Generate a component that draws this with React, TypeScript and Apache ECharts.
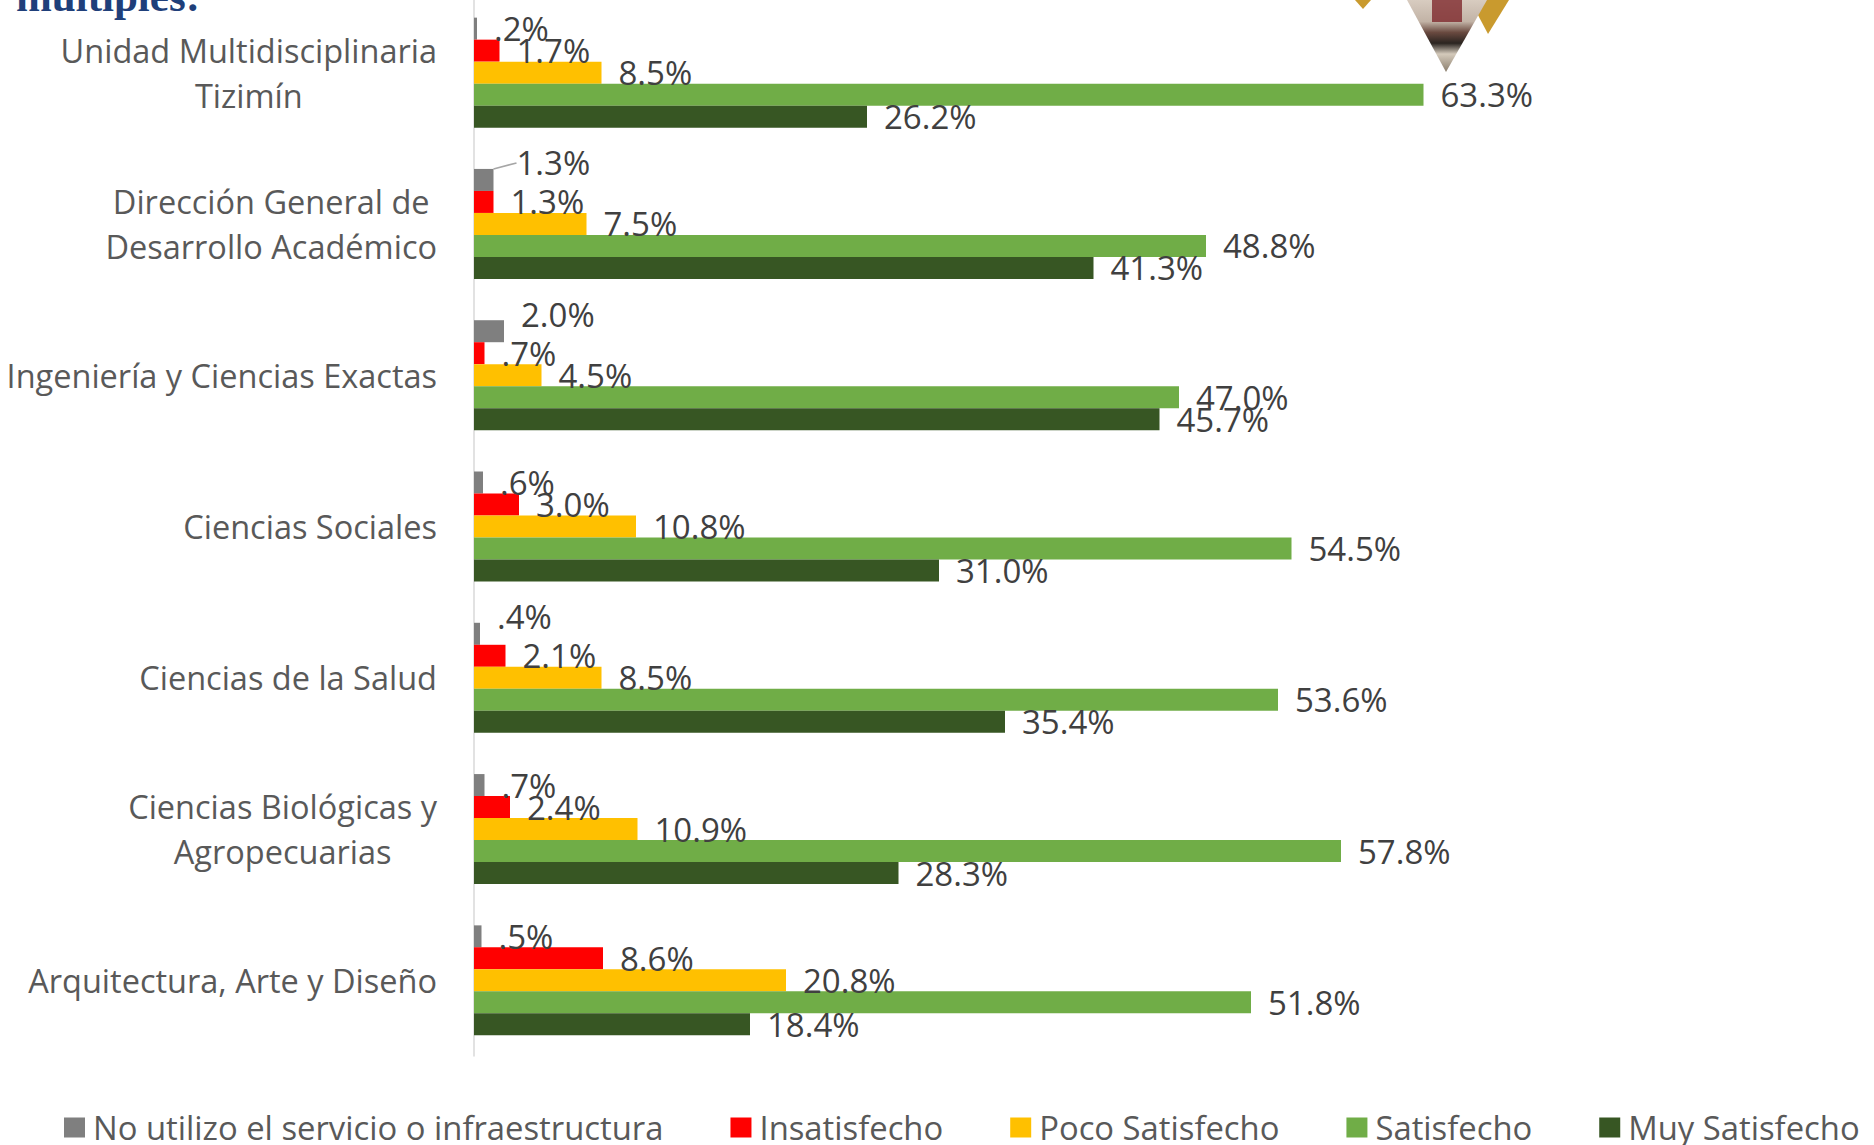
import React, { useEffect, useRef } from "react";
import * as echarts from "echarts";

const categories = [
  "Unidad Multidisciplinaria\nTizimín",
  "Dirección General de\nDesarrollo Académico",
  "Ingeniería y Ciencias Exactas",
  "Ciencias Sociales",
  "Ciencias de la Salud",
  "Ciencias Biológicas y\nAgropecuarias",
  "Arquitectura, Arte y Diseño",
];

const seriesNames = [
  "No utilizo el servicio o infraestructura",
  "Insatisfecho",
  "Poco Satisfecho",
  "Satisfecho",
  "Muy Satisfecho",
];

const noUtilizo = [0.2, 1.3, 2.0, 0.6, 0.4, 0.7, 0.5];
const insatisfecho = [1.7, 1.3, 0.7, 3.0, 2.1, 2.4, 8.6];
const pocoSatisfecho = [8.5, 7.5, 4.5, 10.8, 8.5, 10.9, 20.8];
const satisfecho = [63.3, 48.8, 47.0, 54.5, 53.6, 57.8, 51.8];
const muySatisfecho = [26.2, 41.3, 45.7, 31.0, 35.4, 28.3, 18.4];

const colors = ["#7F7F7F", "#FF0000", "#FFC000", "#70AD47", "#375623"];

const FONT = "'Open Sans', sans-serif";
const FS_LABEL = 33;
const FS_CAT = 32.5;
const FS_LEG = 32.8;

function fmt(v: number): string {
  const s = v.toFixed(1);
  return (v < 1 ? s.replace(/^0/, "") : s) + "%";
}

export default function App() {
  const ref = useRef<HTMLDivElement>(null);

  useEffect(() => {
    if (!ref.current) return;
    const chart = echarts.init(ref.current, undefined, { renderer: "svg" });

    const allData = [noUtilizo, insatisfecho, pocoSatisfecho, satisfecho, muySatisfecho];

    const series = allData.map((arr, si) => ({
      name: seriesNames[si],
      type: "bar",
      barWidth: 22,
      barGap: "0%",
      itemStyle: { color: colors[si] },
      data: arr.map((v, di) => {
        if (si === 0 && di === 1) {
          return {
            value: v,
            labelLine: { show: true, lineStyle: { color: "#A6A6A6", width: 1.5 } },
          };
        }
        return v;
      }),
      label: {
        show: true,
        position: "right",
        distance: 17,
        formatter: (p: any) => fmt(p.value),
        fontSize: FS_LABEL,
        fontFamily: FONT,
        color: "#404040",
      },
      labelLayout:
        si === 0
          ? (p: any) =>
              p.dataIndex === 1
                ? { dx: 6, dy: -17 }
                : p.dataIndex === 2 || p.dataIndex === 4
                ? { dx: 0, dy: -17 }
                : {}
          : undefined,
    }));

    const option: any = {
      animation: false,
      backgroundColor: "#ffffff",
      grid: {
        left: 474,
        width: 1050,
        top: -3,
        height: 1059,
        containLabel: false,
        outerBoundsMode: "none",
      },
      xAxis: {
        type: "value",
        min: 0,
        max: 70,
        show: false,
        splitLine: { show: false },
      },
      yAxis: {
        type: "category",
        inverse: true,
        data: categories,
        axisLine: { show: true, lineStyle: { color: "#D9D9D9", width: 1.5 } },
        axisTick: { show: false },
        splitLine: { show: false },
        axisLabel: {
          margin: 37,
          color: "#595959",
          fontSize: FS_CAT,
          fontFamily: FONT,
          formatter: (v: string) =>
            v
              .split("\n")
              .map((s) => "{c|" + s + "}")
              .join("\n"),
          rich: {
            c: {
              align: "center",
              fontSize: FS_CAT,
              fontFamily: FONT,
              color: "#595959",
              lineHeight: 45,
            },
          },
        },
      },
      legend: {
        show: true,
        left: 64,
        top: 1111,
        padding: 0,
        width: 1810,
        icon: "rect",
        itemWidth: 21,
        itemHeight: 20,
        itemGap: 67,
        data: seriesNames,
        textStyle: {
          fontSize: FS_LEG,
          fontFamily: FONT,
          color: "#595959",
          padding: [0, 0, 0, 3],
        },
      },
      graphic: [
        {
          type: "text",
          x: 16,
          y: -4,
          style: {
            text: "múltiples:",
            fontSize: 43,
            fontWeight: "bold",
            fontFamily: "'Liberation Serif', serif",
            fill: "#1F3F7A",
            verticalAlign: "middle",
            align: "left",
          },
        },
        {
          type: "polygon",
          shape: { points: [[1355, 0], [1371, 0], [1363, 9]] },
          style: { fill: "#C99A2E" },
        },
        {
          type: "polygon",
          shape: { points: [[1470, 0], [1509, 0], [1488, 34]] },
          style: { fill: "#C99A2E" },
        },
        {
          type: "polygon",
          shape: { points: [[1407, 0], [1487, 0], [1446, 72]] },
          style: {
            fill: new echarts.graphic.LinearGradient(0, 0, 0, 1, [
              { offset: 0, color: "#d8ccc0" },
              { offset: 0.3, color: "#c2b3a6" },
              { offset: 0.45, color: "#6a4a40" },
              { offset: 0.6, color: "#2a2420" },
              { offset: 0.75, color: "#d4cabb" },
              { offset: 1, color: "#8a7d6c" },
            ]),
          },
        },
        {
          type: "polygon",
          shape: { points: [[1432, 0], [1462, 0], [1462, 22], [1432, 22]] },
          style: { fill: "#7a1f24", opacity: 0.75 },
        },
      ],
      series,
    };

    chart.setOption(option);
    return () => chart.dispose();
  }, []);

  return (
    <div
      ref={ref}
      style={{ position: "fixed", left: 0, top: 0, width: 1874, height: 1145 }}
    />
  );
}
